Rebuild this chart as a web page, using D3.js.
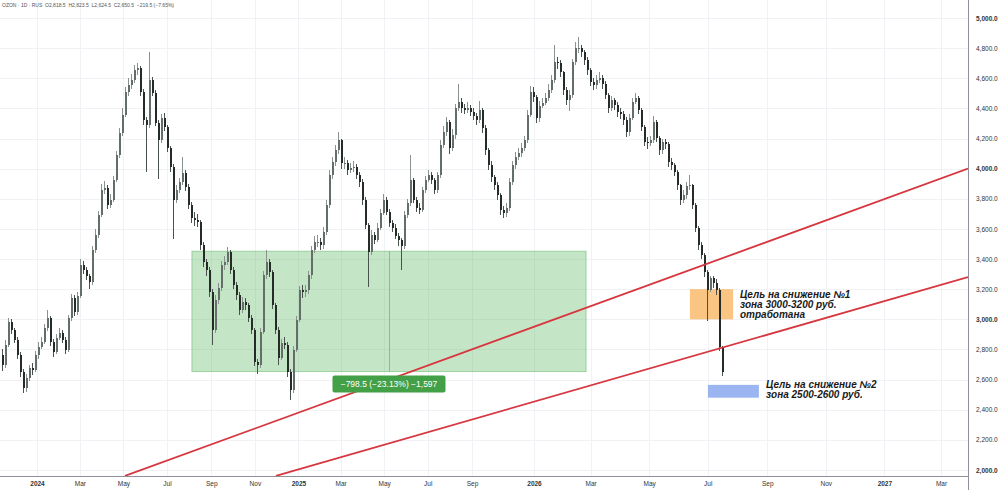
<!DOCTYPE html>
<html>
<head>
<meta charset="utf-8">
<script src="https://cdn.jsdelivr.net/npm/d3@7"></script>
<style>
  body { margin: 0; background: #fff; }
  svg { display: block; font-family: "Liberation Sans", Arial, sans-serif; }
</style>
</head>
<body>
<svg id="chart" width="1000" height="490"></svg>
<script>
// candles (one candle per ~3 px of the original)
var firstOpen = 2760;
var closes = [
  2697,2830,2982,2929,2863,2763,2651,2545,2611,2677,
  2664,2763,2817,2850,2943,3009,2850,2783,2876,2910,
  2863,2797,3009,3142,3049,3155,3361,3328,3288,3248,
  3460,3560,3693,3859,3872,3759,3792,3925,4091,4237,
  4356,4509,4555,4589,4655,4668,4509,4323,4290,4589,
  4502,4303,4190,4336,4277,4137,4011,3792,3859,3912,
  3971,3878,3759,3673,3660,3646,3494,3381,3328,3182,
  2929,3129,3208,3361,3381,3447,3328,3228,3162,3062,
  3115,3095,3009,2929,2717,2697,2916,3294,3381,3314,
  3095,2929,2744,2843,2830,2651,2531,2797,2996,3195,
  3182,3195,3294,3460,3514,3514,3494,3580,3759,3958,
  4044,4124,4190,4038,4038,3991,4005,4011,3958,3912,
  3792,3626,3447,3560,3527,3606,3706,3792,3713,3640,
  3606,3553,3527,3487,3693,3772,3925,3792,3739,3726,
  3859,3925,3958,3925,3859,3958,4157,4243,4310,4137,
  4223,4403,4443,4403,4389,4403,4376,4350,4323,4389,
  4270,4124,4025,3945,3892,3825,3726,3706,3739,3912,
  4025,4078,4104,4137,4190,4356,4509,4476,4336,4416,
  4436,4469,4522,4589,4708,4701,4641,4522,4456,4489,
  4708,4801,4801,4774,4721,4655,4575,4555,4589,4602,
  4562,4489,4403,4456,4423,4376,4363,4323,4243,4336,
  4443,4469,4389,4277,4177,4170,4190,4310,4203,4124,
  4177,4164,4044,4025,3978,3892,3792,3825,3885,3892,
  3759,3606,3494,3427,3314,3195,3275,3241,3195,2818.5,
  2650.5
];
var highs = [
  2800,2860,3010,3000,2945,2880,2780,2670,2640,2700,
  2710,2790,2850,2880,2970,3060,3020,2870,2900,2940,
  2930,2880,3030,3170,3160,3180,3400,3390,3350,3300,
  3490,3600,3720,3900,3920,3890,3830,3950,4120,4270,
  4400,4540,4600,4630,4690,4700,4680,4530,4340,4775,
  4610,4520,4320,4360,4370,4290,4150,4030,3890,3940,
  4080,3990,3900,3780,3710,3700,3660,3510,3400,3345,
  3200,3160,3240,3390,3420,3480,3460,3350,3250,3180,
  3150,3140,3110,3030,2940,2740,2940,3320,3460,3400,
  3330,3110,2950,2870,2880,2850,2670,2820,3020,3220,
  3230,3230,3320,3490,3550,3560,3540,3610,3790,3990,
  4080,4160,4245,4200,4080,4060,4040,4050,4030,3980,
  3930,3810,3640,3590,3580,3640,3730,3830,3810,3730,
  3660,3630,3570,3540,3720,3800,4090,3940,3810,3770,
  3880,3950,3990,3980,3940,3980,4190,4280,4340,4320,
  4260,4430,4560,4470,4430,4440,4420,4400,4370,4450,
  4400,4290,4140,4050,3960,3910,3840,3750,3770,3940,
  4050,4110,4140,4170,4220,4390,4550,4540,4490,4450,
  4470,4500,4560,4620,4820,4740,4720,4650,4540,4520,
  4730,4840,4875,4820,4790,4740,4670,4600,4620,4640,
  4620,4580,4500,4480,4470,4440,4400,4380,4340,4360,
  4470,4500,4480,4400,4290,4210,4220,4350,4320,4220,
  4200,4200,4180,4070,4040,3990,3900,3860,3910,3960,
  3900,3770,3620,3510,3440,3330,3290,3290,3270,3210,
  2823.5
];
var lows = [
  2660,2680,2815,2900,2840,2740,2620,2510,2520,2590,
  2630,2650,2740,2800,2835,2920,2820,2750,2770,2860,
  2840,2770,2785,2990,3020,3030,3140,3300,3260,3200,
  3230,3440,3540,3680,3830,3730,3740,3780,3910,4070,
  4220,4340,4480,4530,4570,4620,4480,4290,3975,4270,
  4480,4280,3930,4170,4250,4110,3980,3530,3770,3840,
  3890,3850,3730,3640,3620,3610,3460,3350,3290,3150,
  2830,2910,3100,3190,3330,3360,3300,3200,3130,3030,
  3040,3060,2980,2900,2690,2640,2680,2900,3270,3280,
  3070,2900,2700,2730,2800,2620,2465,2510,2780,2980,
  3140,3150,3170,3270,3440,3480,3460,3470,3560,3740,
  3930,4020,4100,4000,4000,3960,3970,3980,3930,3880,
  3760,3600,3215,3430,3500,3510,3590,3690,3690,3610,
  3580,3530,3490,3330,3470,3670,3750,3770,3710,3700,
  3710,3840,3910,3900,3830,3840,3940,4140,4220,4100,
  4120,4200,4380,4370,4360,4370,4350,4320,4290,4300,
  4240,4090,3990,3910,3860,3790,3690,3670,3680,3720,
  3890,4000,4060,4080,4120,4170,4340,4440,4300,4310,
  4400,4420,4450,4500,4570,4660,4610,4490,4420,4380,
  4470,4690,4770,4740,4690,4620,4550,4520,4530,4570,
  4530,4460,4370,4380,4390,4340,4330,4290,4210,4220,
  4320,4430,4360,4250,4150,4130,4150,4170,4180,4090,
  4100,4130,4010,3990,3950,3860,3760,3770,3800,3860,
  3730,3580,3460,3400,3280,2990,3180,3210,3160,2790,
  2624.5
];
var lastChange = [-219.5, -7.65];

var priceTicks = [2000,2200,2400,2600,2800,3000,3200,3400,3600,3800,4000,4200,4400,4600,4800,5000];
var timeTicks = ["2024-01-01","2024-03-01","2024-05-01","2024-07-01","2024-09-01","2024-11-01",
                 "2025-01-01","2025-03-01","2025-05-01","2025-07-01","2025-09-01",
                 "2026-01-01","2026-03-01","2026-05-01","2026-07-01","2026-09-01","2026-11-01",
                 "2027-01-01","2027-03-01"];

// drawings: x in candle index units, y in price
var trendLines = [
  { from: [41, 1961], to: [322, 4000] },
  { from: [91.3, 1961], to: [322, 3281] }
];
var rangeBox = { from: 63.3, to: 194.7, top: 3452, bottom: 2653.5, label: "\u2212798.5 (\u221223.13%) \u22121,597" };
var zones = [
  { from: 229.3, to: 243.7, low: 3000, high: 3200, fill: "rgba(246,150,30,0.55)" },
  { from: 235.3, to: 252.3, low: 2480, high: 2565, fill: "#9bb5f1" }
];
var notes = [
  { at: 246, price: 3140, lines: ["Цель на снижение №1", "зона 3000-3200 руб.", "отработана"] },
  { at: 254.7, price: 2541, lines: ["Цель на снижение №2", "зона 2500-2600 руб."] }
];

var plotRight = 968, plotBottom = 476;
var svg = d3.select("#chart");

var x = d3.scaleLinear().domain([0, closes.length - 1]).range([2, 722]);
var y = d3.scaleLinear().domain([2000, 5000]).range([470, 18]);
var t = d3.scaleTime()
  .domain([new Date(2024, 0, 1), new Date(2025, 8, 1), new Date(2026, 0, 1), new Date(2027, 2, 1)])
  .range([37, 472, 534, 941]);
var tickDates = timeTicks.map(function (s) { return d3.timeParse("%Y-%m-%d")(s); });

svg.append("defs").append("clipPath").attr("id", "plot")
  .append("rect").attr("width", plotRight).attr("height", plotBottom);

// grid
var grid = svg.append("g").attr("stroke", "#f0f2f6").attr("shape-rendering", "crispEdges");
grid.selectAll(".h").data(priceTicks).enter().append("line")
  .attr("x1", 0).attr("x2", plotRight)
  .attr("y1", function (d) { return Math.round(y(d)) + 0.5; })
  .attr("y2", function (d) { return Math.round(y(d)) + 0.5; });
grid.selectAll(".v").data(tickDates).enter().append("line")
  .attr("y1", 0).attr("y2", plotBottom)
  .attr("x1", function (d) { return Math.round(t(d)) + 0.5; })
  .attr("x2", function (d) { return Math.round(t(d)) + 0.5; });

var plot = svg.append("g").attr("clip-path", "url(#plot)");

// measured range
plot.append("rect")
  .attr("x", x(rangeBox.from)).attr("width", x(rangeBox.to) - x(rangeBox.from))
  .attr("y", y(rangeBox.top)).attr("height", y(rangeBox.bottom) - y(rangeBox.top))
  .attr("fill", "rgba(76,175,80,0.32)").attr("stroke", "rgba(76,175,80,0.45)");
var mid = (rangeBox.from + rangeBox.to) / 2;
plot.append("line")
  .attr("x1", Math.round(x(mid)) + 0.5).attr("x2", Math.round(x(mid)) + 0.5)
  .attr("y1", y(rangeBox.top)).attr("y2", y(rangeBox.bottom))
  .attr("stroke", "rgba(76,175,80,0.6)");

// target zones
plot.selectAll(".zone").data(zones).enter().append("rect")
  .attr("x", function (d) { return x(d.from); })
  .attr("width", function (d) { return x(d.to) - x(d.from); })
  .attr("y", function (d) { return y(d.high); })
  .attr("height", function (d) { return y(d.low) - y(d.high); })
  .attr("fill", function (d) { return d.fill; });

// candles
var candles = closes.map(function (c, i) {
  return { i: i, o: i ? closes[i - 1] : firstOpen, h: highs[i], l: lows[i], c: c };
});
var upCol = "#646e69", downCol = "#252b27";
var cg = plot.append("g").attr("shape-rendering", "crispEdges");
cg.selectAll(".wick").data(candles).enter().append("line")
  .attr("x1", function (d) { return Math.round(x(d.i)) + 0.5; })
  .attr("x2", function (d) { return Math.round(x(d.i)) + 0.5; })
  .attr("y1", function (d) { return y(d.h); })
  .attr("y2", function (d) { return y(d.l); })
  .attr("stroke", function (d) { return d.c >= d.o ? "#8a938e" : "#4a524d"; });
cg.selectAll(".body").data(candles).enter().append("rect")
  .attr("x", function (d) { return Math.round(x(d.i)) - 0.5; })
  .attr("width", 2)
  .attr("y", function (d) { return y(Math.max(d.o, d.c)); })
  .attr("height", function (d) { return Math.max(1, Math.abs(y(d.o) - y(d.c))); })
  .attr("fill", function (d) { return d.c >= d.o ? upCol : downCol; });

// trend lines
plot.selectAll(".trend").data(trendLines).enter().append("line")
  .attr("x1", function (d) { return x(d.from[0]); })
  .attr("y1", function (d) { return y(d.from[1]); })
  .attr("x2", function (d) { return x(d.to[0]); })
  .attr("y2", function (d) { return y(d.to[1]); })
  .attr("stroke", "#d7363f").attr("stroke-width", 1.8);

// range label
var lbl = svg.append("g")
  .attr("transform", "translate(" + x(mid) + "," + (y(rangeBox.bottom) + 4) + ")");
lbl.append("rect").attr("x", -56.5).attr("width", 113).attr("height", 17).attr("rx", 2)
  .attr("fill", "#43a047");
lbl.append("text").attr("y", 11.5).attr("text-anchor", "middle")
  .attr("font-size", 8.5).attr("fill", "#fff").text(rangeBox.label);

// notes
notes.forEach(function (n) {
  var tx = svg.append("text").attr("x", x(n.at)).attr("y", y(n.price))
    .attr("font-size", 10).attr("font-weight", "bold").attr("font-style", "italic")
    .attr("fill", "#1a1a1a");
  n.lines.forEach(function (s, k) {
    tx.append("tspan").attr("x", x(n.at)).attr("dy", k ? 10 : 0).text(s);
  });
});

// axes
var yAxis = d3.axisRight(y).tickValues(priceTicks).tickSize(0).tickPadding(8)
  .tickFormat(d3.format(",.1f"));
var ya = svg.append("g").attr("transform", "translate(" + plotRight + ",0)").call(yAxis);
ya.select(".domain").remove();
ya.selectAll("text").attr("font-size", 6.5).attr("fill", "#333")
  .attr("font-family", "'Liberation Sans', Arial, sans-serif")
  .attr("font-weight", function (d) { return d % 1000 === 0 ? "bold" : "normal"; });

var xAxis = d3.axisBottom(t).tickValues(tickDates).tickSize(0).tickPadding(5)
  .tickFormat(function (d) { return d.getMonth() === 0 ? d3.timeFormat("%Y")(d) : d3.timeFormat("%b")(d); });
var xa = svg.append("g").attr("transform", "translate(0," + plotBottom + ")").call(xAxis);
xa.select(".domain").remove();
xa.selectAll("text").attr("font-size", 6.5).attr("fill", "#333")
  .attr("font-family", "'Liberation Sans', Arial, sans-serif")
  .attr("font-weight", function (d) { return d.getMonth() === 0 ? "bold" : "normal"; });

svg.append("line").attr("x1", plotRight + 0.5).attr("x2", plotRight + 0.5)
  .attr("y1", 0).attr("y2", 490).attr("stroke", "#8e9199");
svg.append("line").attr("x1", 0).attr("x2", plotRight)
  .attr("y1", plotBottom + 0.5).attr("y2", plotBottom + 0.5).attr("stroke", "#8e9199");

// header
var last = candles[candles.length - 1];
var f = d3.format(",.1f");
svg.append("text").attr("x", 2).attr("y", 7).attr("font-size", 5).attr("fill", "#555")
  .text("OZON \u00b7 1D \u00b7 RUS  O" + f(last.o) + "  H" + f(last.h) + "  L" + f(last.l) +
        "  C" + f(last.c) + "  " + f(lastChange[0]).replace("-", "\u2212") +
        " (" + d3.format(".2f")(lastChange[1]).replace("-", "\u2212") + "%)")
  .attr("xml:space", "preserve");
</script>
</body>
</html>
